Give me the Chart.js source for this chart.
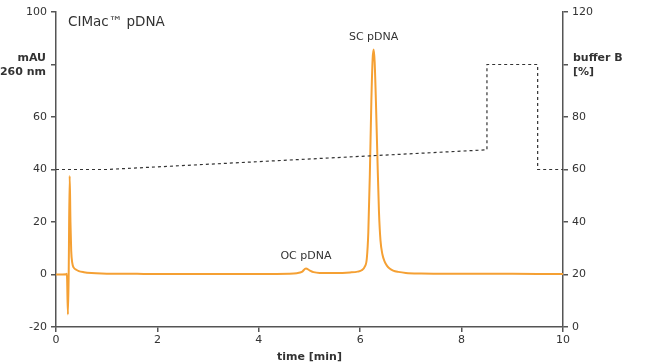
<!DOCTYPE html>
<html>
<head>
<meta charset="utf-8">
<script src="https://cdn.jsdelivr.net/npm/chart.js@4"></script>
<style>
html,body{margin:0;padding:0;background:#fff;}
#wrap{width:650px;height:364px;position:relative;}
</style>
</head>
<body>
<div id="wrap"><canvas id="c" width="650" height="364"></canvas></div>
<script>
// Chromatogram (UV 260 nm), time [min] and signal [mAU]
const signalTime = [0, 0.2, 0.215, 0.235, 0.25, 0.27, 0.285, 0.3, 0.32, 0.35, 0.4, 0.45, 0.55, 0.7, 0.9, 1.2, 1.6, 2, 3, 4, 4.6, 4.75, 4.85, 4.93, 5.0, 5.08, 5.2, 5.5, 5.8, 5.95, 6.03, 6.09, 6.13, 6.16, 6.19, 6.22, 6.245, 6.265, 6.285, 6.31, 6.34, 6.37, 6.40, 6.44, 6.48, 6.53, 6.58, 6.65, 6.75, 6.9, 7.2, 8, 9, 10];
const signalMAU  = [0, 0.1, 0.3, -15.2, 0, 37.5, 20, 9, 4.5, 2.6, 1.8, 1.3, 0.9, 0.6, 0.4, 0.3, 0.25, 0.2, 0.2, 0.2, 0.3, 0.5, 1.0, 2.3, 1.6, 0.9, 0.6, 0.6, 0.8, 1.1, 1.6, 3, 6, 16, 38, 66, 82, 85.7, 81, 66, 44, 24, 13, 7.5, 5, 3.3, 2.3, 1.5, 1.0, 0.6, 0.4, 0.3, 0.25, 0.2];

// Gradient profile: time [min] and buffer B [%]
const bufferTime = [0, 1, 8.5, 8.5, 9.5, 9.5, 10];
const bufferB    = [60, 60, 67.5, 100, 100, 60, 60];

// Axis ticks (the tick where the axis title sits has no number)
const xTicks = [0, 2, 4, 6, 8, 10];
const yLeftTicks = [-20, 0, 20, 40, 60, 80, 100];
const yRightTicks = [0, 20, 40, 60, 80, 100, 120];
const yLeftTitleTick = 80;
const yRightTitleTick = 100;

// Peak annotations
const peakLabels = ["OC pDNA", "SC pDNA"];
const peakLabelTime = [4.93, 6.265];
const peakLabelMAU = [6.9, 90.3];

const title = "CIMac\u2122 pDNA";

const FONT = "'DejaVu Sans', Verdana, sans-serif";
const TXT = '#333';
const AX = '#555';

const signalData = signalTime.map((t, i) => ({x: t, y: signalMAU[i]}));
const bufferData = bufferTime.map((t, i) => ({x: t, y: bufferB[i]}));

const textPlugin = {
  id: 'texts',
  afterDatasetsDraw(chart) {
    const ctx = chart.ctx;
    const xs = chart.scales.x, yl = chart.scales.y, yr = chart.scales.y2;
    const ca = chart.chartArea;
    ctx.save();
    ctx.fillStyle = TXT;
    // title
    ctx.font = "13.5px " + FONT;
    ctx.textAlign = 'left';
    ctx.textBaseline = 'middle';
    ctx.fillText(title, ca.left + 12, 22);
    // peak labels
    ctx.font = "11px " + FONT;
    ctx.textAlign = 'center';
    for (let i = 0; i < peakLabels.length; i++) {
      ctx.fillText(peakLabels[i], xs.getPixelForValue(peakLabelTime[i]), yl.getPixelForValue(peakLabelMAU[i]));
    }
    // left axis title
    ctx.font = "bold 11px " + FONT;
    ctx.textAlign = 'right';
    const yL = yl.getPixelForValue(yLeftTitleTick);
    ctx.fillText("mAU", ca.left - 10, yL - 6);
    ctx.fillText("260 nm", ca.left - 10, yL + 8);
    // right axis title
    ctx.textAlign = 'left';
    const yR = yr.getPixelForValue(yRightTitleTick);
    ctx.fillText("buffer B", ca.right + 10, yR - 6);
    ctx.fillText("[%]", ca.right + 10, yR + 8);
    ctx.restore();
  }
};

new Chart(document.getElementById('c'), {
  type: 'line',
  data: {
    datasets: [
      {
        data: bufferData,
        yAxisID: 'y2',
        borderColor: '#333',
        borderWidth: 1.2,
        borderDash: [3, 3],
        pointRadius: 0,
        tension: 0,
        fill: false
      },
      {
        data: signalData,
        yAxisID: 'y',
        borderColor: '#f5a033',
        borderWidth: 2,
        pointRadius: 0,
        cubicInterpolationMode: 'monotone',
        fill: false
      }
    ]
  },
  plugins: [textPlugin],
  options: {
    responsive: false,
    animation: false,
    events: [],
    layout: {padding: {top: 12, left: 0, right: 0, bottom: 0}},
    plugins: {legend: {display: false}, tooltip: {enabled: false}},
    scales: {
      x: {
        type: 'linear',
        min: 0, max: 10,
        afterBuildTicks: s => { s.ticks = xTicks.map(v => ({value: v})); },
        afterFit: s => { s.height = 37; },
        ticks: {color: TXT, font: {size: 11, family: FONT}, padding: 2, maxRotation: 0},
        grid: {drawOnChartArea: false, drawTicks: true, tickLength: 5, color: AX, lineWidth: 1.5},
        border: {display: true, color: AX, width: 1.5},
        title: {display: true, text: 'time [min]', color: TXT, font: {size: 11, weight: 'bold', family: FONT}, padding: {top: 1, bottom: 0}}
      },
      y: {
        type: 'linear',
        position: 'left',
        min: -20, max: 100,
        afterBuildTicks: s => { s.ticks = yLeftTicks.map(v => ({value: v})); },
        afterFit: s => { s.width = 56; },
        ticks: {color: TXT, font: {size: 11, family: FONT}, padding: 4,
                callback: v => (v === yLeftTitleTick ? '' : String(v))},
        grid: {drawOnChartArea: false, drawTicks: true, tickLength: 5, color: AX, lineWidth: 1.5},
        border: {display: true, color: AX, width: 1.5}
      },
      y2: {
        type: 'linear',
        position: 'right',
        min: 0, max: 120,
        afterBuildTicks: s => { s.ticks = yRightTicks.map(v => ({value: v})); },
        afterFit: s => { s.width = 87; },
        ticks: {color: TXT, font: {size: 11, family: FONT}, padding: 4,
                callback: v => (v === yRightTitleTick ? '' : String(v))},
        grid: {drawOnChartArea: false, drawTicks: true, tickLength: 5, color: AX, lineWidth: 1.5},
        border: {display: true, color: AX, width: 1.5}
      }
    }
  }
});
</script>
</body>
</html>
